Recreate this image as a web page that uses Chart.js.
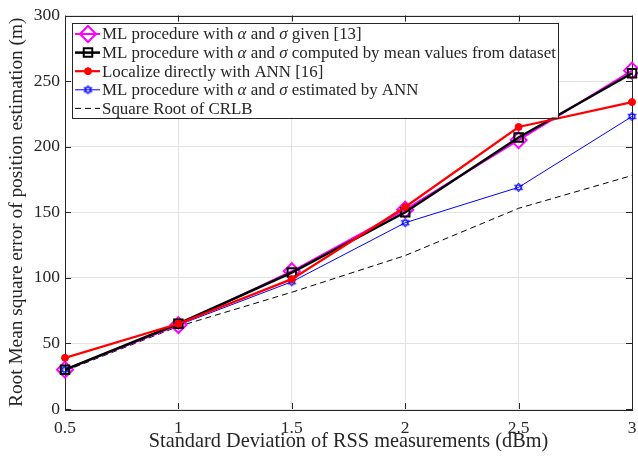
<!DOCTYPE html>
<html><head><meta charset="utf-8">
<script src="https://cdn.jsdelivr.net/npm/chart.js@4/dist/chart.umd.min.js"></script>
<style>html,body{margin:0;padding:0;background:#fff;overflow:hidden}</style>
</head><body>
<canvas id="c" width="638" height="457" style="width:638px;height:457px;display:block"></canvas>
<script>
const categories = [0.5, 1, 1.5, 2, 2.5, 3];
const mlGiven   = [30, 64, 105, 152, 205, 258];
const mlMean    = [30, 65, 104, 150, 207, 256];
const annDirect = [39, 65, 99, 154, 215, 234];
const mlAnn     = [30, 64, 97, 142, 169, 223];
const crlb      = [29, 63, 89, 117, 153, 178];
const yTicks = [0, 50, 100, 150, 200, 250, 300];
const xTicks = [0.5, 1, 1.5, 2, 2.5, 3];
const seriesNames = [
  'ML procedure with α and σ given [13]',
  'ML procedure with α and σ computed by mean values from dataset',
  'Localize directly with ANN [16]',
  'ML procedure with α and σ estimated by ANN',
  'Square Root of CRLB'
];
const xTitle = 'Standard Deviation of RSS measurements (dBm)';
const yTitle = 'Root Mean square error of position estimation (m)';

const SERIF = '"Liberation Serif","Times New Roman",serif';
const TXT = '#262626';

function hexagram(size, color) {
  const c = document.createElement('canvas');
  c.width = size; c.height = size;
  const g = c.getContext('2d');
  const cx = size / 2, cy = size / 2, r = size / 2 - 1;
  g.strokeStyle = color; g.lineWidth = 1;
  for (let t = 0; t < 2; t++) {
    g.beginPath();
    for (let i = 0; i < 3; i++) {
      const a = -Math.PI / 2 + t * Math.PI + i * 2 * Math.PI / 3;
      const px = cx + r * Math.cos(a), py = cy + r * Math.sin(a);
      if (i === 0) g.moveTo(px, py); else g.lineTo(px, py);
    }
    g.closePath(); g.stroke();
  }
  return c;
}
const starImg = hexagram(11, '#0000ff');

const pts = arr => categories.map((x, i) => ({ x, y: arr[i] }));

const datasets = [
  { label: seriesNames[0], data: pts(mlGiven), borderColor: '#ff00ff', backgroundColor: 'rgba(0,0,0,0)',
    borderWidth: 2, pointStyle: 'rectRot', pointRadius: 8, pointBorderWidth: 2, pointBorderColor: '#ff00ff', order: 3 },
  { label: seriesNames[1], data: pts(mlMean), borderColor: '#000000', backgroundColor: 'rgba(0,0,0,0)',
    borderWidth: 2.5, pointStyle: 'rect', pointRadius: 6, pointBorderWidth: 2, pointBorderColor: '#000', order: 2 },
  { label: seriesNames[2], data: pts(annDirect), borderColor: '#ff0000', backgroundColor: '#ff0000',
    borderWidth: 2.2, pointStyle: 'circle', pointRadius: 3.5, pointBorderWidth: 1, order: 1 },
  { label: seriesNames[3], data: pts(mlAnn), borderColor: '#0000ff', backgroundColor: 'rgba(0,0,0,0)',
    borderWidth: 1, pointStyle: starImg, pointRadius: 5, order: 4 },
  { label: seriesNames[4], data: pts(crlb), borderColor: '#000000', backgroundColor: 'rgba(0,0,0,0)',
    borderWidth: 1, borderDash: [6, 4], pointRadius: 0, order: 5 }
];
datasets.forEach(d => { d.tension = 0; d.fill = false; d.pointHoverRadius = d.pointRadius; d.clip = false; });

function drawMarker(ctx, ds, x, y) {
  if (!ds.pointRadius) return;
  if (ds.pointStyle instanceof HTMLCanvasElement) {
    ctx.drawImage(ds.pointStyle, x - ds.pointStyle.width / 2, y - ds.pointStyle.height / 2);
    return;
  }
  ctx.save();
  ctx.lineWidth = ds.pointBorderWidth;
  ctx.strokeStyle = ds.pointBorderColor || ds.borderColor;
  ctx.fillStyle = ds.backgroundColor;
  Chart.helpers.drawPoint(ctx, { pointStyle: ds.pointStyle, rotation: 0, radius: ds.pointRadius, borderWidth: ds.pointBorderWidth }, x, y);
  ctx.restore();
}

function drawRich(ctx, text, x, y, size) {
  const parts = text.split(/([ασ])/);
  let cx = x;
  parts.forEach(p => {
    if (!p) return;
    ctx.font = (/[ασ]/.test(p) ? 'italic ' : '') + size + 'px ' + SERIF;
    ctx.fillText(p, cx, y);
    cx += ctx.measureText(p).width;
  });
  return cx - x;
}
function measureRich(ctx, text, size) {
  const parts = text.split(/([ασ])/);
  let w = 0;
  parts.forEach(p => {
    if (!p) return;
    ctx.font = (/[ασ]/.test(p) ? 'italic ' : '') + size + 'px ' + SERIF;
    w += ctx.measureText(p).width;
  });
  return w;
}

const legendPlugin = {
  id: 'boxLegend',
  afterDraw(chart) {
    const ctx = chart.ctx, a = chart.chartArea;
    const fs = 16.9, rowH = 18.6;
    let maxW = 0;
    seriesNames.forEach(t => { maxW = Math.max(maxW, measureRich(ctx, t, fs)); });
    const bx = a.left + 7, by = a.top + 7;
    const bw = 30 + maxW + 2, bh = rowH * seriesNames.length + 2;
    ctx.save();
    ctx.fillStyle = '#fff';
    ctx.fillRect(bx, by, bw, bh);
    ctx.strokeStyle = '#262626'; ctx.lineWidth = 1;
    ctx.strokeRect(Math.round(bx) + 0.5, Math.round(by) + 0.5, Math.round(bw), Math.round(bh));
    chart.data.datasets.forEach((ds, i) => {
      const cy = by + 11.5 + i * rowH;
      ctx.save();
      ctx.strokeStyle = ds.borderColor; ctx.lineWidth = ds.borderWidth;
      ctx.setLineDash(ds.borderDash || []);
      ctx.beginPath(); ctx.moveTo(bx + 3, cy); ctx.lineTo(bx + 28, cy); ctx.stroke();
      ctx.restore();
      drawMarker(ctx, ds, bx + 16, cy);
      ctx.fillStyle = TXT; ctx.textBaseline = 'middle'; ctx.textAlign = 'left';
      drawRich(ctx, ds.label, bx + 30, cy + 1, fs);
    });
    ctx.restore();
  }
};

const ticksPlugin = {
  id: 'inTicks',
  beforeDatasetsDraw(chart) {
    const ctx = chart.ctx, a = chart.chartArea;
    const xs = chart.scales.x, ys = chart.scales.y;
    ctx.save();
    ctx.strokeStyle = '#262626'; ctx.lineWidth = 1;
    ctx.beginPath();
    xTicks.forEach(v => {
      const px = Math.round(xs.getPixelForValue(v)) + 0.5;
      ctx.moveTo(px, a.bottom); ctx.lineTo(px, a.bottom - 6);
      ctx.moveTo(px, a.top); ctx.lineTo(px, a.top + 6);
    });
    yTicks.forEach(v => {
      const py = Math.round(ys.getPixelForValue(v)) + 0.5;
      ctx.moveTo(a.left, py); ctx.lineTo(a.left + 6, py);
      ctx.moveTo(a.right, py); ctx.lineTo(a.right - 6, py);
    });
    ctx.stroke();
    ctx.strokeRect(Math.round(a.left) + 0.5, Math.round(a.top) + 0.5, Math.round(a.right - a.left), Math.round(a.bottom - a.top));
    ctx.restore();
  }
};

new Chart(document.getElementById('c'), {
  type: 'line',
  data: { datasets },
  options: {
    responsive: false,
    animation: false,
    devicePixelRatio: 1,
    layout: { autoPadding: false, padding: { left: 0, right: 6, top: 14, bottom: 0 } },
    plugins: { legend: { display: false }, tooltip: { enabled: false } },
    scales: {
      x: {
        type: 'linear', min: 0.5, max: 3,
        afterBuildTicks: s => { s.ticks = xTicks.map(v => ({ value: v })); },
        afterFit: s => { s.height = 48; s.paddingRight = 0; },
        grid: { color: '#e3e3e3', drawTicks: true, tickLength: 9, tickColor: 'rgba(0,0,0,0)', lineWidth: 1 },
        border: { display: false },
        ticks: { color: TXT, font: { family: SERIF, size: 17.5 }, padding: 0, maxRotation: 0,
                 callback: v => String(v) },
        title: { display: true, text: xTitle, color: TXT, font: { family: SERIF, size: 20.3 }, padding: { top: 0, bottom: 3 } }
      },
      y: {
        type: 'linear', min: 0, max: 300,
        afterBuildTicks: s => { s.ticks = yTicks.map(v => ({ value: v })); },
        afterFit: s => { s.width = 65; },
        grid: { color: '#e3e3e3', drawTicks: false, lineWidth: 1 },
        border: { display: false },
        ticks: { color: TXT, font: { family: SERIF, size: 17.5 }, padding: 5 },
        title: { display: true, text: yTitle, color: TXT, font: { family: SERIF, size: 19.3 }, padding: { top: 5, bottom: 0 } }
      }
    }
  },
  plugins: [ticksPlugin, legendPlugin]
});
</script>
</body></html>
